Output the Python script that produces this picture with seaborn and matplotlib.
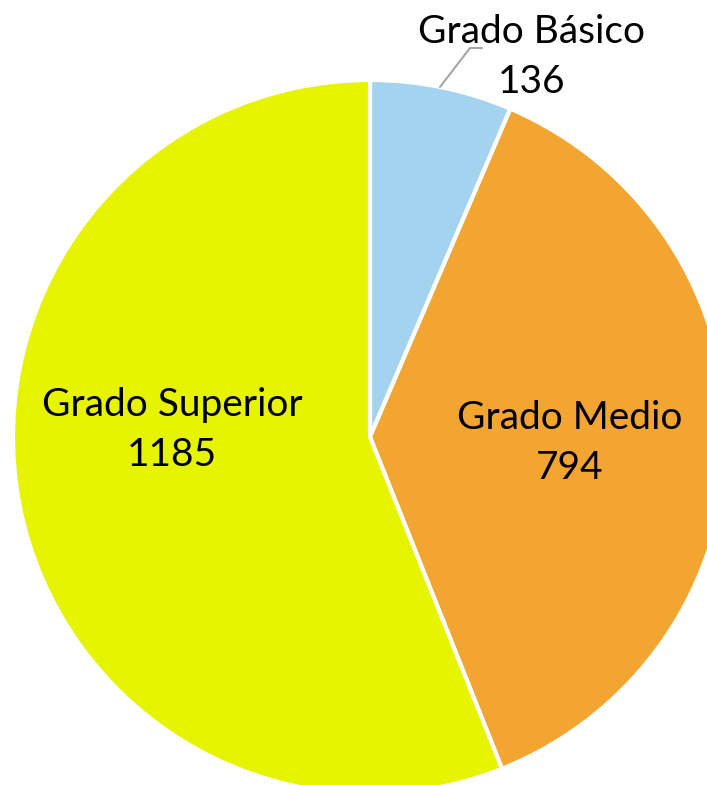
import matplotlib
matplotlib.use("Agg")
import matplotlib.pyplot as plt
import seaborn as sns

categories = ["Grado Básico", "Grado Medio", "Grado Superior"]
values = [136, 794, 1185]
colors = ["#A3D3EE", "#F2A531", "#E6F400"]

sns.set_theme(style="white")
plt.rcParams['font.family'] = ['Lato', 'DejaVu Sans']

fig = plt.figure(figsize=(7.07, 7.85), dpi=100)
ax = fig.add_axes([0, 0, 1, 1])

cx, cy, r = 370, 437, 357
# y axis is inverted below, so counterclock=True draws clockwise on screen
ax.pie(values, colors=colors, startangle=-90, counterclock=True,
       center=(cx, cy), radius=r, frame=True,
       wedgeprops=dict(edgecolor='white', linewidth=3))
ax.set_xlim(0, 707)
ax.set_ylim(785, 0)
ax.set_aspect('equal')
ax.axis('off')

fs = 28
ls = 1.45
ax.text(532, 57, f"{categories[0]}\n{values[0]}", ha='center', va='center',
        fontsize=fs, linespacing=ls, color='black')
ax.text(570, 443, f"{categories[1]}\n{values[1]}", ha='center', va='center',
        fontsize=fs, linespacing=ls, color='black')
ax.text(172, 430, f"{categories[2]}\n{values[2]}", ha='center', va='center',
        fontsize=fs, linespacing=ls, color='black')
ax.plot([440, 470, 482], [87, 48, 48], color='#A6A6A6', linewidth=1.5)

fig.savefig("out.png", dpi=100)
